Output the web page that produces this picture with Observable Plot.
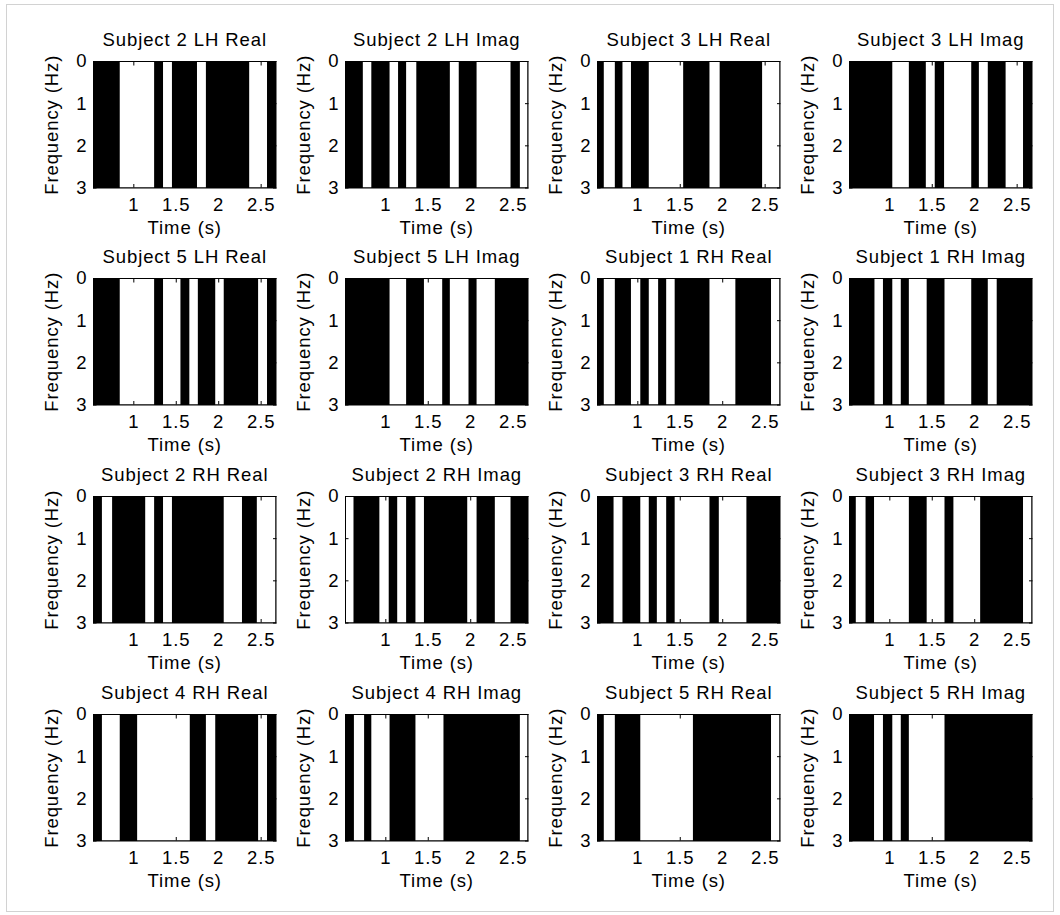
<!DOCTYPE html>
<html>
<head>
<meta charset="utf-8">
<script src="https://cdn.jsdelivr.net/npm/d3@7"></script>
<script src="https://cdn.jsdelivr.net/npm/@observablehq/plot@0.6"></script>
<style>
  html, body { margin: 0; padding: 0; background: #ffffff; }
  body { width: 1060px; height: 915px; position: relative; overflow: hidden; font-family: "Liberation Sans", Arial, sans-serif; }
  #box { position: absolute; left: 6px; top: 4px; width: 1046px; height: 906px; border: 1px solid #d2d2d2; }
  .panel { position: absolute; }
  .panel svg { overflow: visible; background: transparent; }
  .panel svg text { letter-spacing: 0.9px; }
</style>
</head>
<body>
<div id="box"></div>
<div id="grid"></div>
<script>
// Panel titles (row-major, 4 x 4)
const titles = [
  "Subject 2 LH Real", "Subject 2 LH Imag", "Subject 3 LH Real", "Subject 3 LH Imag",
  "Subject 5 LH Real", "Subject 5 LH Imag", "Subject 1 RH Real", "Subject 1 RH Imag",
  "Subject 2 RH Real", "Subject 2 RH Imag", "Subject 3 RH Real", "Subject 3 RH Imag",
  "Subject 4 RH Real", "Subject 4 RH Imag", "Subject 5 RH Real", "Subject 5 RH Imag"
];

// Time intervals (s) drawn in white; the rest of each panel is black
const whiteBands = [
  [[0.84, 1.245], [1.35, 1.455], [1.75, 1.855], [2.365, 2.575]],
  [[0.735, 0.835], [1.05, 1.15], [1.245, 1.365], [1.76, 1.865], [2.075, 2.475], [2.585, 2.675]],
  [[0.605, 0.735], [0.825, 0.925], [1.135, 1.54], [1.85, 1.97], [2.47, 2.675]],
  [[1.035, 1.23], [1.43, 1.535], [1.645, 1.965], [2.055, 2.16], [2.37, 2.575]],

  [[0.84, 1.245], [1.35, 1.555], [1.66, 1.76], [1.965, 2.065], [2.47, 2.575]],
  [[1.05, 1.245], [1.455, 1.67], [1.76, 1.98], [2.075, 2.29]],
  [[0.605, 0.735], [0.925, 1.035], [1.135, 1.245], [1.34, 1.44], [1.85, 2.155], [2.575, 2.675]],
  [[0.825, 0.925], [1.035, 1.135], [1.23, 1.44], [1.65, 1.965], [2.16, 2.265]],

  [[0.63, 0.75], [1.14, 1.245], [1.35, 1.455], [2.065, 2.28], [2.455, 2.675]],
  [[0.525, 0.625], [0.93, 1.04], [1.14, 1.245], [1.355, 1.455], [1.965, 2.075], [2.29, 2.475]],
  [[0.72, 0.825], [1.035, 1.135], [1.23, 1.34], [1.44, 1.85], [1.96, 2.285]],
  [[0.605, 0.72], [0.82, 1.23], [1.44, 1.65], [1.755, 2.07], [2.575, 2.675]],

  [[0.63, 0.84], [1.045, 1.665], [1.855, 1.965], [2.47, 2.575]],
  [[0.63, 0.75], [0.835, 1.05], [1.355, 1.685], [2.585, 2.675]],
  [[0.605, 0.735], [1.035, 1.655], [2.575, 2.675]],
  [[0.82, 0.925], [1.035, 1.135], [1.23, 1.65]]
];

const timeTicks = [1, 1.5, 2, 2.5];
const freqTicks = [0, 1, 2, 3];
const timeDomain = [0.525, 2.675];
const freqDomain = [0, 3];
const xLabel = "Time (s)";
const yLabel = "Frequency (Hz)";

// layout
const ML = 60, MR = 12, MT = 40, MB = 55;
const innerW = 182.5, innerH = 126.5;
const colLeft0 = 92.5, colStep = 252;
const rowTop0 = 60.5, rowStep = 217.7;
const FS = 18.5;

const grid = document.getElementById("grid");

titles.forEach((title, i) => {
  const r = Math.floor(i / 4), c = i % 4;
  const bands = whiteBands[i].map(([t0, t1]) => ({t0, t1}));
  const chart = Plot.plot({
    width: ML + innerW + MR,
    height: MT + innerH + MB,
    marginLeft: ML, marginRight: MR, marginTop: MT, marginBottom: MB,
    style: {background: "transparent", overflow: "visible", fontFamily: "'Liberation Sans', Arial, sans-serif", fontSize: FS + "px", color: "#000"},
    x: {domain: timeDomain},
    y: {domain: freqDomain, reverse: true},
    marks: [
      Plot.frame({fill: "black"}),
      Plot.rect(bands, {x1: "t0", x2: "t1", fill: "white"}),
      Plot.axisX({ticks: timeTicks, anchor: "bottom", tickSize: 0, tickPadding: 10, label: null, tickFormat: d => String(d)}),
      Plot.axisX({ticks: timeTicks, anchor: "bottom", tickSize: -3.5, text: null, label: null}),
      Plot.axisX({ticks: timeTicks, anchor: "top", tickSize: -3.5, text: null, label: null}),
      Plot.axisY({ticks: freqTicks, anchor: "left", tickSize: 0, tickPadding: 6, label: null, tickFormat: d => String(d)}),
      Plot.axisY({ticks: freqTicks, anchor: "left", tickSize: -3.5, text: null, label: null}),
      Plot.axisY({ticks: freqTicks, anchor: "right", tickSize: -3.5, text: null, label: null}),
      Plot.frame({stroke: "black", strokeWidth: 1}),
      Plot.text([title], {frameAnchor: "top", dy: -15.5, lineAnchor: "bottom", textAnchor: "middle", text: d => d, fill: "black"}),
      Plot.text([xLabel], {frameAnchor: "bottom", dy: 46, lineAnchor: "bottom", textAnchor: "middle", text: d => d, fill: "black"}),
      Plot.text([yLabel], {frameAnchor: "left", dx: -36, rotate: -90, lineAnchor: "bottom", textAnchor: "middle", text: d => d, fill: "black"})
    ]
  });
  const wrap = document.createElement("div");
  wrap.className = "panel";
  wrap.style.left = (colLeft0 + c * colStep - ML) + "px";
  wrap.style.top = (rowTop0 + r * rowStep - MT) + "px";
  wrap.appendChild(chart);
  grid.appendChild(wrap);
});
</script>
</body>
</html>
